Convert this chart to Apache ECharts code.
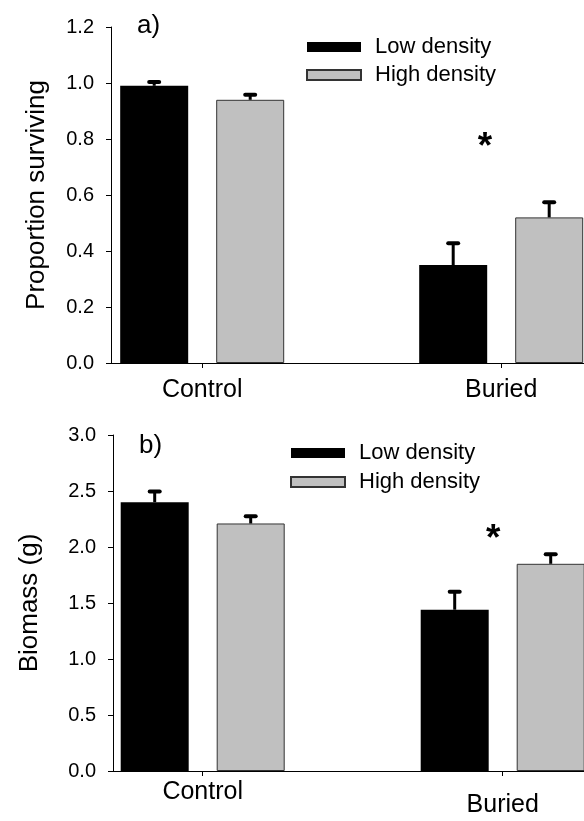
<!DOCTYPE html>
<html>
<head>
<meta charset="utf-8">
<script src="https://cdn.jsdelivr.net/npm/echarts@6/dist/echarts.min.js"></script>
<style>
html, body { margin: 0; padding: 0; background: #fff; }
#main { width: 584px; height: 821px; }
</style>
</head>
<body>
<div id="main"></div>
<script>
// categories
var groups = ['Control', 'Buried'];
var groupPos = [1, 2];
var seriesNames = ['Low density', 'High density'];

// a) proportion surviving
var survLow = [0.99, 0.35];
var survLowErr = [0.014, 0.078];
var survHigh = [0.94, 0.52];
var survHighErr = [0.018, 0.054];

// b) biomass (g)
var bioLow = [2.40, 1.44];
var bioLowErr = [0.095, 0.16];
var bioHigh = [2.21, 1.85];
var bioHighErr = [0.065, 0.085];

// significance marks [x, y]
var starA = [1.946, 0.77];
var starB = [1.968, 2.06];

var FONT = '"Liberation Sans", Arial, sans-serif';
var BAR_W = 68;
var BAR_GAP = 28;   // px between the two bars
var SHIFT = (BAR_W + BAR_GAP) / 2;

function pairs(vals) {
    var out = [];
    for (var i = 0; i < vals.length; i++) out.push([groupPos[i], vals[i]]);
    return out;
}
function triples(vals, errs) {
    var out = [];
    for (var i = 0; i < vals.length; i++) out.push([groupPos[i], vals[i], errs[i]]);
    return out;
}

// 误差线 (only upper half)
function errRender(shift) {
    return function (params, api) {
        var x = api.value(0), y = api.value(1), e = api.value(2);
        var base = api.coord([x, y]);
        var top = api.coord([x, y + e]);
        var cx = base[0] + shift;
        return {
            type: 'group',
            children: [
                {type: 'line', shape: {x1: cx, y1: base[1], x2: cx, y2: top[1]},
                    style: {stroke: '#000', lineWidth: 3}},
                {type: 'line', shape: {x1: cx - 5, y1: top[1], x2: cx + 5, y2: top[1]},
                    style: {stroke: '#000', lineWidth: 4, lineCap: 'round'}}
            ]
        };
    };
}

function catLabel(v) {
    var i = groupPos.indexOf(Math.round(v));
    return i < 0 ? '' : groups[i];
}

function xAxisCfg(idx, min, max, margin, buriedPad) {
    return {
        type: 'value', gridIndex: idx, min: min, max: max,
        splitLine: {show: false},
        axisLine: {show: true, onZero: false, lineStyle: {color: '#000', width: 1}},
        axisTick: {show: true, customValues: groupPos, length: 5, lineStyle: {color: '#000'}},
        axisLabel: {
            show: true, customValues: groupPos, margin: margin,
            color: '#000', fontSize: 25, fontFamily: FONT,
            formatter: function (v) {
                var t = catLabel(v);
                if (buriedPad && t === 'Buried') return '{d|' + t + '}';
                return t;
            },
            rich: {d: {fontSize: 25, fontFamily: FONT, color: '#000', padding: [buriedPad, 0, 0, 0]}}
        }
    };
}

function yAxisCfg(idx, max, interval, name, gap) {
    return {
        type: 'value', gridIndex: idx, min: 0, max: max, interval: interval,
        name: name, nameLocation: 'middle', nameGap: gap,
        nameTextStyle: {color: '#000', fontSize: 26, fontFamily: FONT},
        splitLine: {show: false},
        axisLine: {show: true, lineStyle: {color: '#000', width: 1}},
        axisTick: {show: true, length: 5, lineStyle: {color: '#000'}},
        axisLabel: {
            color: '#000', fontSize: 20, fontFamily: FONT, margin: 17,
            formatter: function (v) { return v.toFixed(1); }
        }
    };
}

function barSeries(name, idx, vals, color, border) {
    return {
        name: name, type: 'bar', xAxisIndex: idx, yAxisIndex: idx,
        barWidth: BAR_W, barGap: (BAR_GAP / BAR_W * 100) + '%',
        itemStyle: {color: color, borderColor: border, borderWidth: border ? 1 : 0},
        emphasis: {disabled: true},
        data: pairs(vals)
    };
}

function errSeries(name, idx, vals, errs, shift, star) {
    var s = {
        name: name, type: 'custom', xAxisIndex: idx, yAxisIndex: idx, z: 5,
        renderItem: errRender(shift), encode: {x: 0, y: 1},
        silent: true,
        data: triples(vals, errs)
    };
    if (star) {
        // 显著性星号
        s.markPoint = {
            symbol: 'circle', symbolSize: 0, animation: false,
            label: {show: true, position: 'inside', formatter: '*', color: '#000',
                fontSize: 37, fontWeight: 'bold', fontFamily: FONT},
            data: [{coord: star}]
        };
    }
    return s;
}

var chart = echarts.init(document.getElementById('main'));
var option = {
    animation: false,
    backgroundColor: '#fff',
    title: [
        {text: 'a)', left: 132, top: 8, textStyle: {fontSize: 26, fontWeight: 'normal', color: '#000', fontFamily: FONT}},
        {text: 'b)', left: 134, top: 428, textStyle: {fontSize: 26, fontWeight: 'normal', color: '#000', fontFamily: FONT}}
    ],
    legend: [
        {data: seriesNames, orient: 'vertical', left: 301, top: 31, itemWidth: 54, itemHeight: 10, itemGap: 6,
            icon: 'rect', selectedMode: false,
            textStyle: {fontSize: 22, lineHeight: 22, color: '#000', fontFamily: FONT, padding: [0, 0, 0, 9]}},
        {data: seriesNames, orient: 'vertical', left: 285, top: 437, itemWidth: 54, itemHeight: 10, itemGap: 7,
            icon: 'rect', selectedMode: false,
            textStyle: {fontSize: 22, lineHeight: 22, color: '#000', fontFamily: FONT, padding: [0, 0, 0, 9]}}
    ],
    grid: [
        {left: 111, top: 27, height: 336, width: (2.35 - 0.695) * 299, outerBoundsMode: 'none', containLabel: false},
        {left: 113, top: 435, height: 336, width: (2.35 - 0.701) * 300, outerBoundsMode: 'none', containLabel: false}
    ],
    xAxis: [
        xAxisCfg(0, 0.695, 2.35, 15, 0),
        xAxisCfg(1, 0.701, 2.35, 9, 13)
    ],
    yAxis: [
        yAxisCfg(0, 1.2, 0.2, 'Proportion surviving', 61),
        yAxisCfg(1, 3.0, 0.5, 'Biomass (g)', 70)
    ],
    series: [
        barSeries(seriesNames[0], 0, survLow, '#000', null),
        barSeries(seriesNames[1], 0, survHigh, '#c0c0c0', '#333'),
        errSeries('errA1', 0, survLow, survLowErr, -SHIFT, starA),
        errSeries('errA2', 0, survHigh, survHighErr, SHIFT, null),
        barSeries(seriesNames[0], 1, bioLow, '#000', null),
        barSeries(seriesNames[1], 1, bioHigh, '#c0c0c0', '#333'),
        errSeries('errB1', 1, bioLow, bioLowErr, -SHIFT, starB),
        errSeries('errB2', 1, bioHigh, bioHighErr, SHIFT, null)
    ]
};
chart.setOption(option);
</script>
</body>
</html>
